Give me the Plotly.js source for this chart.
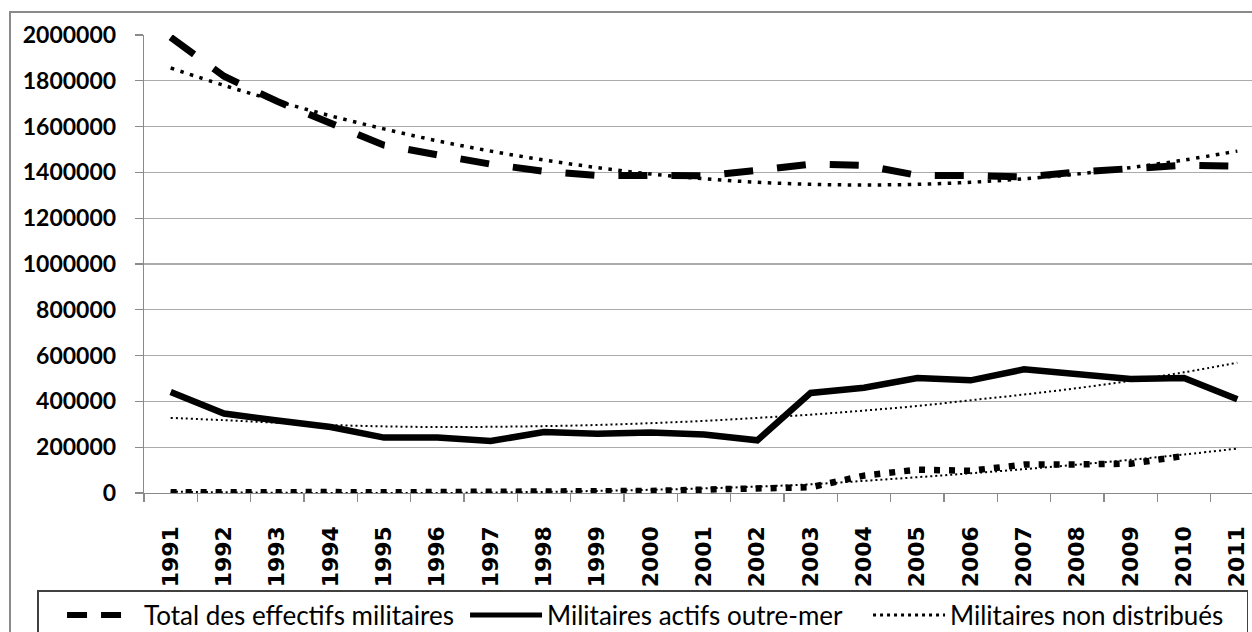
<!DOCTYPE html>
<html>
<head>
<meta charset="utf-8">
<script src="https://cdn.plot.ly/plotly-3.0.1.min.js"></script>
<style>
  html, body { margin: 0; padding: 0; overflow: hidden; background: #ffffff; width: 1252px; height: 632px; }
  #chart { position: absolute; left: 0; top: 0; width: 1300px; height: 632px; }
  #frame { position: absolute; left: 9px; top: 11px; width: 1300px; height: 700px; border: 2px solid #8a8a8a; pointer-events: none; }
</style>
</head>
<body>
<div id="chart"></div>
<div id="frame"></div>
<script>
// ---- data ----
const years = ['1991','1992','1993','1994','1995','1996','1997','1998','1999','2000','2001','2002','2003','2004','2005','2006','2007','2008','2009','2010','2011'];
const seriesNames = ['Total des effectifs militaires', 'Militaires actifs outre-mer', 'Militaires non distribués'];

const totalEffectifs = [1990000, 1820000, 1710000, 1612000, 1519000, 1477000, 1436000, 1405000, 1387000, 1387000, 1385000, 1409000, 1436000, 1431000, 1387000, 1387000, 1380000, 1402000, 1420000, 1431000, 1427000];
const actifsOutreMer = [441000, 347000, 317000, 288000, 242000, 242000, 227000, 266000, 259000, 264000, 255000, 230000, 437000, 460000, 502000, 492000, 540000, 517000, 498000, 502000, 409000];
const nonDistribues = [3000, 5000, 9000, 4000, 3000, 3000, 4000, 8000, 4000, 9000, 15000, 19000, 25000, 76000, 102000, 97000, 124000, 125000, 128000, 162000, null];

// trend lines
const trendTotal = [1856000, 1780000, 1711000, 1647000, 1590000, 1538000, 1493000, 1454000, 1421000, 1393000, 1372000, 1357000, 1348000, 1345000, 1348000, 1357000, 1372000, 1393000, 1421000, 1454000, 1493000];
const trendOutreMer = [328000, 318000, 307000, 297000, 291000, 288000, 289000, 292000, 297000, 305000, 315000, 328000, 342000, 360000, 380000, 405000, 430000, 458000, 490000, 527000, 569000];
const trendNonDistribues = [6000, 3000, 1000, 0, 0, 0, 2000, 5000, 9000, 14000, 20000, 28000, 38000, 53000, 69000, 86000, 104000, 124000, 145000, 168000, 194000];

const yTicks = [0, 200000, 400000, 600000, 800000, 1000000, 1200000, 1400000, 1600000, 1800000, 2000000];

// ---- traces ----
const traces = [
  // data series
  { x: years, y: totalEffectifs, name: seriesNames[0], legendgroup: 'g0', showlegend: false, type: 'scatter', mode: 'lines',
    line: { color: '#000000', width: 7, dash: '29px,24px' } },
  { x: years, y: actifsOutreMer, name: seriesNames[1], legendgroup: 'g1', showlegend: false, type: 'scatter', mode: 'lines',
    line: { color: '#000000', width: 6.5 } },
  { x: years, y: nonDistribues, name: seriesNames[2], legendgroup: 'g2', showlegend: false, type: 'scatter', mode: 'lines',
    line: { color: '#000000', width: 6.5, dash: '6px,9px' } },
  // trend lines
  { x: years, y: trendTotal, name: 'Tendance 1', showlegend: false, type: 'scatter', mode: 'lines', hoverinfo: 'skip',
    line: { color: '#000000', width: 3.5, dash: '3.5px,6.5px', shape: 'spline' } },
  { x: years, y: trendOutreMer, name: 'Tendance 2', showlegend: false, type: 'scatter', mode: 'lines', hoverinfo: 'skip',
    line: { color: '#000000', width: 2, dash: '2px,3px', shape: 'spline' } },
  { x: years, y: trendNonDistribues, name: 'Tendance 3', showlegend: false, type: 'scatter', mode: 'lines', hoverinfo: 'skip',
    line: { color: '#000000', width: 2, dash: '2px,3px', shape: 'spline' } },
  // legend entries (legend-style symbols)
  { x: [null], y: [null], name: seriesNames[0], legendgroup: 'g0', type: 'scatter', mode: 'lines',
    line: { color: '#000000', width: 6, dash: '20px,14px,20px,100px' } },
  { x: [null], y: [null], name: seriesNames[1], legendgroup: 'g1', type: 'scatter', mode: 'lines',
    line: { color: '#000000', width: 5 } },
  { x: [null], y: [null], name: seriesNames[2], legendgroup: 'g2', type: 'scatter', mode: 'lines',
    line: { color: '#000000', width: 3, dash: '3px,4px' } }
];

const layout = {
  width: 1300,
  height: 632,
  margin: { l: 144, r: 36, t: 35, b: 139, autoexpand: false },
  paper_bgcolor: 'rgba(0,0,0,0)',
  plot_bgcolor: '#ffffff',
  showlegend: true,
  font: { family: 'Lato, "Liberation Sans", sans-serif', color: '#000000' },
  xaxis: {
    type: 'category',
    categoryarray: years,
    range: [-0.5, 20.5],
    tickson: 'boundaries',
    ticks: 'outside',
    ticklen: 8,
    tickcolor: '#8a8a8a',
    tickwidth: 1.3,
    tickangle: -90,
    ticklabelstandoff: 23,
    tickfont: { family: '"DejaVu Sans", sans-serif', size: 22, weight: 'bold', color: '#000000' },
    showline: true,
    linecolor: '#8a8a8a',
    linewidth: 1.3,
    showgrid: false,
    zeroline: false,
    fixedrange: true
  },
  yaxis: {
    range: [0, 2000000],
    tickvals: yTicks,
    ticktext: yTicks.map(String),
    ticks: 'outside',
    ticklen: 8,
    tickcolor: '#8a8a8a',
    tickwidth: 1.3,
    ticklabelstandoff: 14,
    tickfont: { family: 'Lato, sans-serif', size: 23, weight: 'bold', color: '#000000' },
    showline: true,
    linecolor: '#8a8a8a',
    linewidth: 1.3,
    showgrid: true,
    gridcolor: '#ababab',
    gridwidth: 1.3,
    zeroline: false,
    fixedrange: true
  },
  legend: {
    orientation: 'h',
    x: -0.0955,
    xanchor: 'left',
    y: -0.212,
    yanchor: 'top',
    bgcolor: '#ffffff',
    bordercolor: '#404040',
    borderwidth: 1.5,
    indentation: 25,
    itemwidth: 72,
    entrywidth: 291,
    entrywidthmode: 'pixels',
    font: { family: 'Lato, sans-serif', size: 26, color: '#000000' }
  }
};

Plotly.newPlot('chart', traces, layout, { displayModeBar: false, staticPlot: true });
</script>
</body>
</html>
